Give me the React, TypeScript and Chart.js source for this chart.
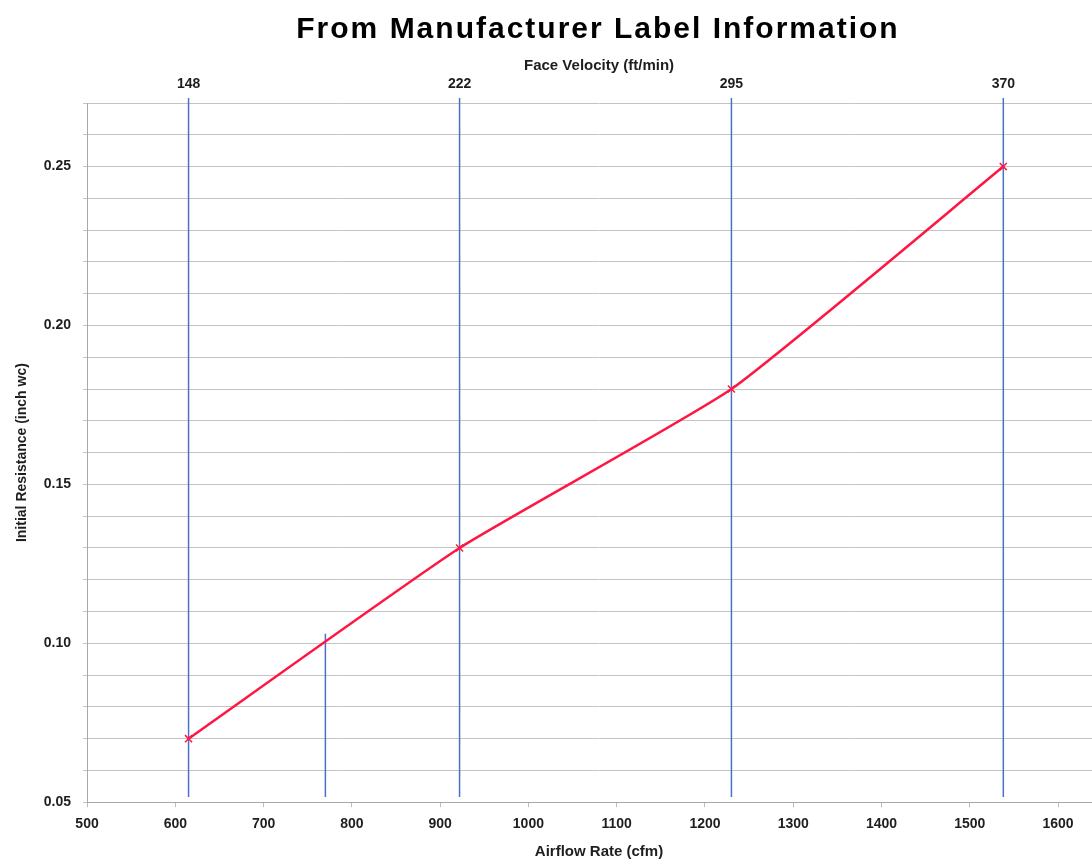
import React, { useEffect, useRef } from "react";
import { Chart, registerables } from "chart.js";

Chart.register(...registerables);

const chartTitle = "From Manufacturer Label Information";

const airflowCfm = [615, 922, 1230, 1538];
const resistanceInWc = [0.07, 0.13, 0.18, 0.25];

const faceVelocityLabels = ["148", "222", "295", "370"];
const faceVelocityCfm = [615, 922, 1230, 1538];

const markerLineCfm = 770;
const markerLineTop = 0.103;
const refLineBottom = 0.0516;
const refLineTop = 0.2716;

const xTickValues = [500, 600, 700, 800, 900, 1000, 1100, 1200, 1300, 1400, 1500, 1600];
const yGridValues = [0.05, 0.06, 0.07, 0.08, 0.09, 0.1, 0.11, 0.12, 0.13, 0.14, 0.15, 0.16, 0.17, 0.18, 0.19, 0.2, 0.21, 0.22, 0.23, 0.24, 0.25, 0.26, 0.27];
const yLabelValues = [0.05, 0.1, 0.15, 0.2, 0.25];

const X_MIN = 500;
const X_MAX = 1660;
const Y_MIN = 0.05;
const Y_MAX = 0.27;

const FONT = "'Liberation Sans', Arial, sans-serif";
const TEXT = "#1e1e1e";
const BLUE = "#4a72c0";
const RED = "#ff1744";

export default function App() {
  const ref = useRef<HTMLCanvasElement | null>(null);

  useEffect(() => {
    if (!ref.current) return;
    const refLines = faceVelocityCfm.map((c) => ({
      type: "line" as const,
      data: [
        { x: c, y: refLineBottom },
        { x: c, y: refLineTop },
      ],
      borderColor: BLUE,
      borderWidth: 1.5,
      pointRadius: 0,
      clip: false as any,
      order: 2,
    }));
    const chart = new Chart(ref.current, {
      type: "line",
      data: {
        datasets: [
          ...refLines,
          {
            type: "line",
            data: [
              { x: markerLineCfm, y: refLineBottom },
              { x: markerLineCfm, y: markerLineTop },
            ],
            borderColor: BLUE,
            borderWidth: 1.5,
            pointRadius: 0,
            order: 2,
          },
          {
            type: "line",
            data: airflowCfm.map((x, i) => ({ x, y: resistanceInWc[i] })),
            borderColor: RED,
            borderWidth: 2.5,
            tension: 0.15,
            pointStyle: "crossRot",
            pointRadius: 5,
            pointBorderWidth: 1.5,
            pointBorderColor: RED,
            pointBackgroundColor: RED,
            order: 1,
          },
        ] as any,
      },
      options: {
        responsive: false,
        animation: false,
        layout: { padding: { left: 14, right: 83, top: 57, bottom: 0 } },
        plugins: {
          legend: { display: false },
          tooltip: { enabled: false },
          title: { display: false },
        },
        scales: {
          x: {
            type: "linear",
            position: "bottom",
            min: X_MIN,
            max: X_MAX,
            afterBuildTicks: (axis: any) => {
              axis.ticks = xTickValues.map((v) => ({ value: v }));
            },
            ticks: {
              color: TEXT,
              font: { family: FONT, size: 14, weight: "bold" },
              padding: 9,
              maxRotation: 0,
              autoSkip: false,
              callback: (v: any) => String(v),
            },
            grid: { display: true, drawOnChartArea: false, tickLength: 5, color: "#bdbdbd" },
            border: { color: "#a8a8a8", width: 1 },
            title: {
              display: true,
              text: "Airflow Rate (cfm)",
              color: TEXT,
              font: { family: FONT, size: 15, weight: "bold" },
              padding: { top: 1, bottom: 0 },
            },
          },
          x2: {
            type: "linear",
            position: "top",
            min: X_MIN,
            max: X_MAX,
            afterBuildTicks: (axis: any) => {
              axis.ticks = faceVelocityCfm.map((v) => ({ value: v }));
            },
            ticks: {
              color: TEXT,
              font: { family: FONT, size: 14, weight: "bold" },
              padding: 10.6,
              maxRotation: 0,
              autoSkip: false,
              callback: (v: any) => {
                const i = faceVelocityCfm.indexOf(Number(v));
                return i >= 0 ? faceVelocityLabels[i] : "";
              },
            },
            grid: { display: false, drawTicks: false, tickLength: 0 },
            border: { display: false },
            title: {
              display: true,
              text: "Face Velocity (ft/min)",
              color: TEXT,
              font: { family: FONT, size: 15, weight: "bold" },
              padding: { top: 0, bottom: -10 },
            },
          },
          y: {
            type: "linear",
            min: Y_MIN,
            max: Y_MAX,
            afterBuildTicks: (axis: any) => {
              axis.ticks = yGridValues.map((v) => ({ value: v }));
            },
            ticks: {
              color: TEXT,
              font: { family: FONT, size: 14, weight: "bold" },
              padding: 12,
              autoSkip: false,
              callback: (v: any) => {
                const n = Number(v);
                const hit = yLabelValues.some((l) => Math.abs(l - n) < 1e-6);
                return hit ? n.toFixed(2) : "";
              },
            },
            grid: {
              color: "#c4c4c4",
              lineWidth: 1,
              tickLength: 4,
            },
            border: { color: "#a8a8a8", width: 1 },
            title: {
              display: true,
              text: "Initial Resistance (inch wc)",
              color: TEXT,
              font: { family: FONT, size: 14, weight: "bold" },
              padding: { top: 0, bottom: 1 },
            },
          },
        },
      } as any,
    });
    return () => chart.destroy();
  }, []);

  return (
    <div
      style={{
        position: "absolute",
        left: 0,
        top: 0,
        width: 1092,
        height: 861,
        overflow: "hidden",
        background: "#fff",
      }}
    >
      <canvas
        ref={ref}
        width={1194}
        height={861}
        style={{ position: "absolute", left: 0, top: 0, width: 1194, height: 861 }}
      />
      <div
        style={{
          position: "absolute",
          left: 0,
          top: 13,
          width: 1196,
          textAlign: "center",
          fontFamily: FONT,
          fontWeight: "bold",
          fontSize: 30,
          lineHeight: "30px",
          letterSpacing: "2px",
          color: "#000",
          whiteSpace: "nowrap",
        }}
      >
        {chartTitle}
      </div>
    </div>
  );
}
